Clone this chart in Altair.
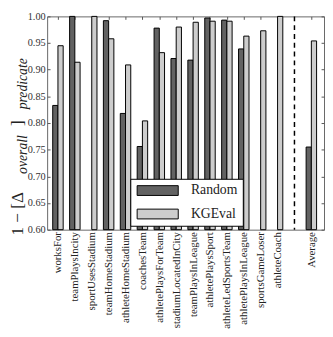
import json
import altair as alt
import pandas as pd

categories = ["worksFor", "teamPlaysIncity", "sportUsesStadium", "teamHomeStadium",
              "athleteHomeStadium", "coachesTeam", "athletePlaysForTeam",
              "stadiumLocatedInCity", "teamPlaysInLeague", "athletePlaysSport",
              "athleteLedSportsTeam", "athletePlaysInLeague", "sportsGameLoser",
              "athleteCoach", "", "Average"]
positions = [0, 1, 2, 3, 4, 5, 6, 7, 8, 9, 10, 11, 12, 13, 15]
random_vals = [0.833, 1.000, None, 0.992, 0.818, 0.756, 0.978, 0.921, 0.918,
               0.997, 0.993, 0.939, None, None, 0.755]
kgeval_vals = [0.945, 0.914, 1.000, 0.958, 0.909, 0.804, 0.932, 0.980, 0.989,
               0.991, 0.991, 0.963, 0.973, 1.000, 0.954]
series = ["Random", "KGEval"]
colors = ["#626262", "#cdcdcd"]
separator = [14]
y_ticks = [0.60, 0.65, 0.70, 0.75, 0.80, 0.85, 0.90, 0.95, 1.00]

BW = 0.31
rows = []
for p, r, k in zip(positions, random_vals, kgeval_vals):
    if r is not None:
        rows.append({"pos": p, "series": "Random", "value": r, "x0": p - BW, "x1": p})
    if k is not None:
        rows.append({"pos": p, "series": "KGEval", "value": k, "x0": p, "x1": p + BW})
df = pd.DataFrame(rows)
sep_df = pd.DataFrame({"sep": separator})

SERIF = "Liberation Serif"
XDOM = [-0.64, 15.75]
YDOM = [0.6, 1.0]
label_expr = json.dumps(categories) + "[datum.value]"

xs = alt.Scale(domain=XDOM, nice=False, zero=False)
ys = alt.Scale(domain=YDOM, nice=False, zero=False)

bars = alt.Chart(df).mark_bar(stroke="black", strokeWidth=1, opacity=1).encode(
    x=alt.X("x0:Q", scale=xs,
            axis=alt.Axis(orient="bottom", values=positions, labelExpr=label_expr,
                          labelAngle=-90, labelFont=SERIF, labelFontSize=11,
                          labelColor="#222", offset=-3, tickSize=3, tickColor="#555",
                          domain=False, grid=False, title=None, labelPadding=2,
                          labelOverlap=False)),
    x2="x1:Q",
    y=alt.Y("value:Q", scale=ys,
            axis=alt.Axis(orient="left", values=y_ticks, format=".2f",
                          labelFont=SERIF, labelFontSize=10.5, labelColor="#333",
                          offset=-3, tickSize=3, tickColor="#555", domain=False,
                          grid=False, title=None, labelPadding=2)),
    y2=alt.datum(0.6),
    color=alt.Color("series:N", scale=alt.Scale(domain=series, range=colors),
                    sort=series,
                    legend=alt.Legend(title=None, orient="none", legendX=85, legendY=166,
                                      fillColor="white", strokeColor="black",
                                      padding=5, symbolType="M-4.2,-1H4.2V1H-4.2Z",
                                      symbolSize=100, symbolStrokeColor="black",
                                      symbolStrokeWidth=1, symbolOpacity=1,
                                      symbolOffset=16,
                                      labelFont=SERIF, labelFontSize=14,
                                      labelColor="#222", rowPadding=10,
                                      labelOffset=27)),
)

ghost = alt.Chart(df).mark_point(opacity=0).encode(
    x=alt.X("pos:Q", scale=xs,
            axis=alt.Axis(orient="top", values=positions, labels=False, offset=-3,
                          tickSize=3, tickColor="#555", domain=False, grid=False,
                          title=None)),
    y=alt.Y("value:Q", scale=ys,
            axis=alt.Axis(orient="right", values=y_ticks, labels=False, offset=-3,
                          tickSize=3, tickColor="#555", domain=False, grid=False,
                          title=None)),
)

rule = alt.Chart(sep_df).mark_rule(color="black", strokeWidth=1.5, strokeDash=[5, 4]).encode(
    x=alt.X("sep:Q", scale=xs, axis=None)
)


def tpart(txt, x, y, size, italic):
    return alt.Chart(pd.DataFrame({"t": [txt]})).mark_text(
        angle=270, align="left", baseline="alphabetic", font=SERIF,
        fontSize=size, fontStyle="italic" if italic else "normal", color="#222"
    ).encode(text="t:N", x=alt.value(x), y=alt.value(y))


title_parts = [
    tpart("1 − [Δ", -24.5, 224, 17.5, False),
    tpart("overall", -20.5, 161, 14, True),
    tpart("]", -24.5, 112, 17.5, False),
    tpart("predicate", -20.5, 95, 14, True),
]

chart = alt.layer(bars, ghost, rule, *title_parts).resolve_axis(
    x="independent", y="independent"
).properties(
    width=283, height=218, padding={"left": 1, "top": 0, "right": 0, "bottom": 0}
).configure_view(stroke="#666", strokeWidth=1)

chart.save("out.html", embed_options={"renderer": "svg", "actions": False})
